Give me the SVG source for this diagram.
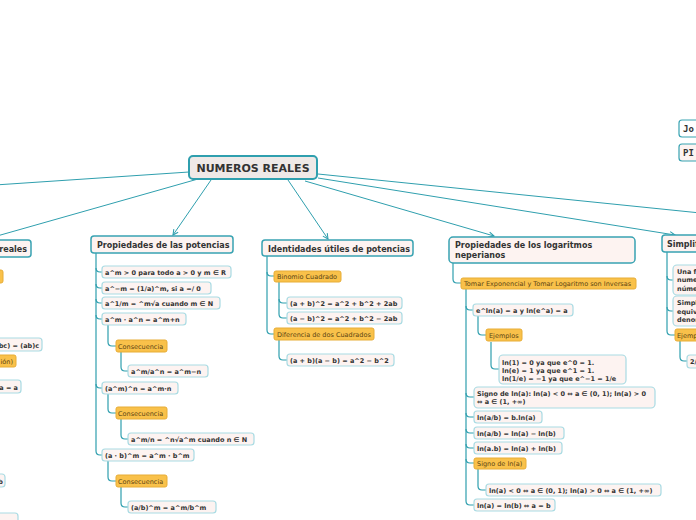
<svg xmlns="http://www.w3.org/2000/svg" width="696" height="520" viewBox="0 0 696 520">
<defs>
<marker id="arr" viewBox="0 0 8 8" refX="7" refY="4" markerWidth="7" markerHeight="7" orient="auto" markerUnits="userSpaceOnUse">
<path d="M1,1 L7,4 L1,7" fill="none" stroke="#2f9fae" stroke-width="1.2"/>
</marker>
</defs>
<style>
text{font-family:"DejaVu Sans",Verdana,sans-serif;fill:#333}
.main rect{fill:#efe9e7;stroke:#2f9fae;stroke-width:2}
.main text{font-size:11px;font-weight:bold}
.tt rect{fill:#fdf3f1;stroke:#38a3b2;stroke-width:1.5}
.tt text{font-size:8px;font-weight:bold}
.nd rect{fill:#fdf3f1;stroke:#a9dbe3;stroke-width:1.2}
.nd text{font-size:6.5px;font-weight:bold}
.or rect{fill:#f9c14a;stroke:#e7ad36;stroke-width:1}
.or text{font-size:6.5px;fill:#5c4513}
.mono text{font-family:"DejaVu Sans Mono",monospace;font-size:9px;font-weight:bold}
.c path{fill:none;stroke:#2f9fae;stroke-width:1.2}
.c line{stroke:#2f9fae;stroke-width:1}
</style>
<g class="c" id="connectors">
<line x1="189" y1="172" x2="-20" y2="186"/>
<line x1="198" y1="179" x2="-10" y2="238" marker-end="url(#arr)"/>
<line x1="211" y1="180" x2="173" y2="235" marker-end="url(#arr)"/>
<line x1="288" y1="180" x2="328" y2="239" marker-end="url(#arr)"/>
<line x1="305" y1="181" x2="494" y2="236" marker-end="url(#arr)"/>
<line x1="318" y1="178" x2="675" y2="235" marker-end="url(#arr)"/>
<line x1="318" y1="174" x2="720" y2="215"/>
<path d="M96,253 V451 Q96,455 100,455 H102"/>
<path d="M96,268 Q96,272 100,272 H102"/>
<path d="M96,284 Q96,288 100,288 H102"/>
<path d="M96,299 Q96,303 100,303 H102"/>
<path d="M96,315 Q96,319 100,319 H102"/>
<path d="M96,384 Q96,388 100,388 H102"/>
<path d="M108,325 V342 Q108,346 112,346 H116"/>
<path d="M121,352 V367 Q121,371 125,371 H128"/>
<path d="M108,393 V409 Q108,413 112,413 H116"/>
<path d="M121,419 V435 Q121,439 125,439 H128"/>
<path d="M108,461 V477 Q108,481 112,481 H116"/>
<path d="M121,487 V503 Q121,507 125,507 H128"/>
<path d="M267,256 V330 Q267,334 271,334 H274"/>
<path d="M267,272 Q267,276 271,276 H274"/>
<path d="M279,282 V314 Q279,318 283,318 H287"/>
<path d="M279,299 Q279,303 283,303 H287"/>
<path d="M279,340 V356 Q279,360 283,360 H287"/>
<path d="M453,263 V279 Q453,283 457,283 H461"/>
<path d="M466,289 V501 Q466,505 470,505 H474"/>
<path d="M466,306 Q466,310 470,310 H473"/>
<path d="M466,393 Q466,397 470,397 H474"/>
<path d="M466,413 Q466,417 470,417 H474"/>
<path d="M466,429 Q466,433 470,433 H474"/>
<path d="M466,444 Q466,448 470,448 H474"/>
<path d="M466,459 Q466,463 470,463 H474"/>
<path d="M478,316 V331 Q478,335 482,335 H486"/>
<path d="M491,342 V365 Q491,369 495,369 H499"/>
<path d="M478,469 V486 Q478,490 482,490 H486"/>
<path d="M667,252 V331 Q667,335 671,335 H675"/>
<path d="M667,276 Q667,280 671,280 H673"/>
<path d="M667,307 Q667,311 671,311 H673"/>
<path d="M680,341 V357 Q680,361 684,361 H687"/>
</g>
<g class="main" id="n-main"><rect x="189" y="156" width="128" height="23" rx="4"/><text x="253" y="172" text-anchor="middle">NUMEROS REALES</text></g>
<g class="tt" id="n-reales"><rect x="-70" y="240" width="101" height="17" rx="3"/><text x="27" y="252" text-anchor="end">reales</text></g>
<g class="or" id="n-r1"><rect x="-40" y="270" width="43" height="13" rx="2"/></g>
<g class="nd" id="n-r2"><rect x="-40" y="338" width="82" height="13" rx="3"/><text x="39" y="347.5" text-anchor="end">a(bc) = (ab)c</text></g>
<g class="or" id="n-r3"><rect x="-40" y="355" width="56" height="12" rx="2"/><text x="13" y="364" text-anchor="end">ión)</text></g>
<g class="nd" id="n-r4"><rect x="-40" y="380" width="61" height="13" rx="3"/><text x="18" y="389.5" text-anchor="end">a = a</text></g>
<g class="nd" id="n-r5"><rect x="-40" y="474" width="45" height="13" rx="3"/><text x="3" y="483.5" text-anchor="end">b</text></g>
<g class="nd" id="n-r6"><rect x="-40" y="513" width="58" height="13" rx="3"/></g>
<g class="tt" id="n-pot"><rect x="91" y="236" width="142" height="17" rx="3"/><text x="97" y="248">Propiedades de las potencias</text></g>
<g class="nd" id="n-p1"><rect x="102" y="266" width="129" height="12" rx="3"/><text x="105" y="274.5">a^m &gt; 0 para todo a &gt; 0 y m ∈ R</text></g>
<g class="nd" id="n-p2"><rect x="102" y="282" width="109" height="12" rx="3"/><text x="105" y="290.5">a^−m = (1/a)^m, si a =/ 0</text></g>
<g class="nd" id="n-p3"><rect x="102" y="297" width="118" height="12" rx="3"/><text x="105" y="305.5">a^1/m = ^m√a cuando m ∈ N</text></g>
<g class="nd" id="n-p4"><rect x="102" y="313" width="84" height="12" rx="3"/><text x="105" y="321.5">a^m · a^n = a^m+n</text></g>
<g class="or" id="n-p5"><rect x="116" y="340" width="51" height="12" rx="2"/><text x="118" y="348.5">Consecuencia</text></g>
<g class="nd" id="n-p6"><rect x="128" y="365" width="80" height="12" rx="3"/><text x="131" y="373.5">a^m/a^n = a^m−n</text></g>
<g class="nd" id="n-p7"><rect x="102" y="382" width="76" height="12" rx="3"/><text x="105" y="390.5">(a^m)^n = a^m·n</text></g>
<g class="or" id="n-p8"><rect x="116" y="407" width="51" height="12" rx="2"/><text x="118" y="415.5">Consecuencia</text></g>
<g class="nd" id="n-p9"><rect x="128" y="433" width="126" height="12" rx="3"/><text x="131" y="441.5">a^m/n = ^n√a^m cuando n ∈ N</text></g>
<g class="nd" id="n-p10"><rect x="102" y="449" width="92" height="12" rx="3"/><text x="105" y="457.5">(a · b)^m = a^m · b^m</text></g>
<g class="or" id="n-p11"><rect x="116" y="475" width="51" height="12" rx="2"/><text x="118" y="483.5">Consecuencia</text></g>
<g class="nd" id="n-p12"><rect x="128" y="501" width="88" height="12" rx="3"/><text x="131" y="509.5">(a/b)^m = a^m/b^m</text></g>
<g class="tt" id="n-ide"><rect x="262" y="240" width="151" height="16" rx="3"/><text x="268" y="251.5">Identidades útiles de potencias</text></g>
<g class="or" id="n-i1"><rect x="274" y="271" width="67" height="11" rx="2"/><text x="277" y="279">Binomio Cuadrado</text></g>
<g class="nd" id="n-i2"><rect x="287" y="297" width="115" height="12" rx="3"/><text x="290" y="305.5">(a + b)^2 = a^2 + b^2 + 2ab</text></g>
<g class="nd" id="n-i3"><rect x="287" y="312" width="115" height="12" rx="3"/><text x="290" y="320.5">(a − b)^2 = a^2 + b^2 − 2ab</text></g>
<g class="or" id="n-i4"><rect x="274" y="328" width="100" height="12" rx="2"/><text x="277" y="336.5">Diferencia de dos Cuadrados</text></g>
<g class="nd" id="n-i5"><rect x="287" y="354" width="107" height="12" rx="3"/><text x="290" y="362.5">(a + b)(a − b) = a^2 − b^2</text></g>
<g class="tt" id="n-log"><rect x="449" y="237" width="186" height="26" rx="4"/><text x="455" y="248">Propiedades de los logaritmos</text><text x="455" y="258">neperianos</text></g>
<g class="or" id="n-l1"><rect x="461" y="278" width="175" height="11" rx="2"/><text x="464" y="286">Tomar Exponencial y Tomar Logaritmo son Inversas</text></g>
<g class="nd" id="n-l2"><rect x="473" y="304" width="100" height="12" rx="3"/><text x="476" y="312.5">e^ln(a) = a y ln(e^a) = a</text></g>
<g class="or" id="n-l3"><rect x="486" y="329" width="36" height="12" rx="2"/><text x="489" y="337.5">Ejemplos</text></g>
<g class="nd" id="n-l4"><rect x="499" y="355" width="127" height="29" rx="4"/><text x="502" y="364.5">ln(1) = 0 ya que e^0 = 1.</text><text x="502" y="372.5">ln(e) = 1 ya que e^1 = 1.</text><text x="502" y="380.5">ln(1/e) = −1 ya que e^−1 = 1/e</text></g>
<g class="nd" id="n-l5"><rect x="474" y="387" width="181" height="21" rx="4"/><text x="477" y="395.5">Signo de ln(a): ln(a) &lt; 0 ⇔ a ∈ (0, 1); ln(a) &gt; 0</text><text x="477" y="403.5">⇔ a ∈ (1, +∞)</text></g>
<g class="nd" id="n-l6"><rect x="474" y="411" width="68" height="12" rx="3"/><text x="477" y="419.5">ln(a/b) = b.ln(a)</text></g>
<g class="nd" id="n-l7"><rect x="474" y="427" width="90" height="12" rx="3"/><text x="477" y="435.5">ln(a/b) = ln(a) − ln(b)</text></g>
<g class="nd" id="n-l8"><rect x="474" y="442" width="88" height="12" rx="3"/><text x="477" y="450.5">ln(a.b) = ln(a) + ln(b)</text></g>
<g class="or" id="n-l9"><rect x="474" y="458" width="52" height="11" rx="2"/><text x="477" y="466">Signo de ln(a)</text></g>
<g class="nd" id="n-l10"><rect x="486" y="484" width="175" height="12" rx="3"/><text x="489" y="492.5">ln(a) &lt; 0 ⇔ a ∈ (0, 1); ln(a) &gt; 0 ⇔ a ∈ (1, +∞)</text></g>
<g class="nd" id="n-l11"><rect x="474" y="499" width="81" height="12" rx="3"/><text x="477" y="507.5">ln(a) = ln(b) ⇔ a = b</text></g>
<g class="tt" id="n-sim"><rect x="662" y="235" width="90" height="17" rx="3"/><text x="667" y="247">Simplificación</text></g>
<g class="nd" id="n-s1"><rect x="673" y="265" width="60" height="30" rx="4"/><text x="677" y="273.5">Una fracción</text><text x="677" y="282">numerador</text><text x="677" y="290.5">número</text></g>
<g class="nd" id="n-s2"><rect x="673" y="296" width="60" height="30" rx="4"/><text x="677" y="305">Simplificar</text><text x="677" y="313.5">equivalente</text><text x="677" y="322">denominador</text></g>
<g class="or" id="n-s3"><rect x="675" y="329" width="40" height="12" rx="2"/><text x="677" y="337.5">Ejemplos</text></g>
<g class="nd" id="n-s4"><rect x="687" y="355" width="40" height="13" rx="3"/><text x="690" y="364">2/4</text></g>
<g class="nd mono" id="n-jo"><rect x="679" y="120" width="60" height="17" rx="3" style="stroke:#38a3b2;fill:#fff"/><text x="683" y="132">Jo</text></g>
<g class="nd mono" id="n-pi"><rect x="679" y="144" width="60" height="17" rx="3" style="stroke:#38a3b2;fill:#fdf3f1"/><text x="683" y="156">PI</text></g>
</svg>
